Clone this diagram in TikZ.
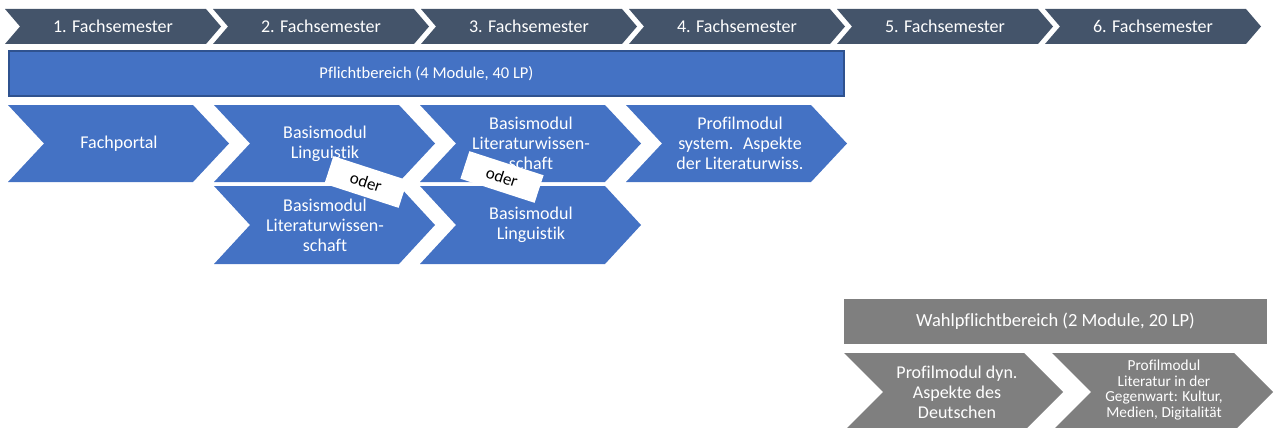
\documentclass[tikz,border=0pt]{standalone}
\usepackage{fontspec}
\setmainfont{Carlito}[Ligatures=NoCommon]
\definecolor{semgrau}{HTML}{44546A}
\definecolor{pflichtblau}{HTML}{4472C4}
\definecolor{pflichtrand}{HTML}{2F528F}
\definecolor{wahlgrau}{HTML}{7F7F7F}

\begin{document}
\begin{tikzpicture}[x=1pt,y=-1pt,
    semfeld/.style={fill=semgrau},
    semtext/.style={text=white,font=\fontsize{18}{20}\selectfont},
    modfeld/.style={fill=pflichtblau},
    modtext/.style={text=white,align=center,font=\fontsize{18}{20}\selectfont},
    wahlfeld/.style={fill=wahlgrau},
    oderbox/.style={fill=white,rotate=-18,minimum width=78pt,minimum height=29pt,inner sep=0pt,font=\fontsize{17}{20}\selectfont}]
        \useasboundingbox (0,0) rectangle (1275,428);
        % Draw semester bar
        \fill[semfeld] (5,9) -- ++(201,0) -- ++(15,17.5) -- ++(-15,17.5) -- ++(-201,0) -- ++(15,-17.5) -- cycle;
        \fill[semfeld] (213,9) -- ++(201,0) -- ++(15,17.5) -- ++(-15,17.5) -- ++(-201,0) -- ++(15,-17.5) -- cycle;
        \fill[semfeld] (421,9) -- ++(201,0) -- ++(15,17.5) -- ++(-15,17.5) -- ++(-201,0) -- ++(15,-17.5) -- cycle;
        \fill[semfeld] (629,9) -- ++(201,0) -- ++(15,17.5) -- ++(-15,17.5) -- ++(-201,0) -- ++(15,-17.5) -- cycle;
        \fill[semfeld] (837,9) -- ++(201,0) -- ++(15,17.5) -- ++(-15,17.5) -- ++(-201,0) -- ++(15,-17.5) -- cycle;
        \fill[semfeld] (1045,9) -- ++(201,0) -- ++(15,17.5) -- ++(-15,17.5) -- ++(-201,0) -- ++(15,-17.5) -- cycle;
        \node[semtext] (sem1) at (113,26.5) {1. Fachsemester};
        \node[semtext] (sem2) at (321,26.5) {2. Fachsemester};
        \node[semtext] (sem3) at (529,26.5) {3. Fachsemester};
        \node[semtext] (sem4) at (737,26.5) {4. Fachsemester};
        \node[semtext] (sem5) at (945,26.5) {5. Fachsemester};
        \node[semtext] (sem6) at (1153,26.5) {6. Fachsemester};
        % Pflichtbereich
        \draw[pflichtrand,line width=2pt,fill=pflichtblau] (9,51) rectangle (844,96);
        \node[text=white,font=\fontsize{16.5}{19}\selectfont] (pflicht) at (426.5,73.5) {Pflichtbereich (4 Module, 40 LP)};
        \fill[modfeld] (8,105) -- ++(185,0) -- ++(36,38.5) -- ++(-36,38.5) -- ++(-185,0) -- ++(36,-38.5) -- cycle;
        \fill[modfeld] (214,105) -- ++(185,0) -- ++(36,38.5) -- ++(-36,38.5) -- ++(-185,0) -- ++(36,-38.5) -- cycle;
        \fill[modfeld] (420,105) -- ++(185,0) -- ++(36,38.5) -- ++(-36,38.5) -- ++(-185,0) -- ++(36,-38.5) -- cycle;
        \fill[modfeld] (626,105) -- ++(185,0) -- ++(36,38.5) -- ++(-36,38.5) -- ++(-185,0) -- ++(36,-38.5) -- cycle;
        \fill[modfeld] (214,186) -- ++(185,0) -- ++(36,39) -- ++(-36,39) -- ++(-185,0) -- ++(36,-39) -- cycle;
        \fill[modfeld] (420,186) -- ++(185,0) -- ++(36,39) -- ++(-36,39) -- ++(-185,0) -- ++(36,-39) -- cycle;
        \node[modtext] (fachportal) at (119,143.5) {Fachportal};
        \node[modtext] (lingA) at (325,143.5) {Basismodul\\Linguistik};
        \node[modtext] (litA) at (531,143.5) {Basismodul\\Literaturwissen-\\schaft};
        \node[modtext] (profsys) at (740,143.5) {Profilmodul\\system.~ Aspekte\\der Literaturwiss.};
        \node[modtext] (litB) at (325,225) {Basismodul\\Literaturwissen-\\schaft};
        \node[modtext] (lingB) at (531,225) {Basismodul\\Linguistik};
        % oder
        \node[oderbox] (oder1) at (366,182) {oder};
        \node[oderbox] (oder2) at (502,177) {oder};
        % Wahlpflichtbereich
        \fill[wahlfeld] (844,299) rectangle (1267,344);
        \node[text=white,font=\fontsize{18.5}{21}\selectfont] (wahl) at (1055.5,321.5) {Wahlpflichtbereich (2 Module, 20 LP)};
        \fill[wahlfeld] (844,353) -- ++(180,0) -- ++(39,39) -- ++(-39,39) -- ++(-180,0) -- ++(39,-39) -- cycle;
        \fill[wahlfeld] (1052,353) -- ++(182,0) -- ++(39,39) -- ++(-39,39) -- ++(-182,0) -- ++(39,-39) -- cycle;
        \node[modtext] (profdyn) at (957,392) {Profilmodul dyn.\\Aspekte des\\Deutschen};
        \node[text=white,align=center,font=\fontsize{15.3}{15.7}\selectfont] (profgeg) at (1164,390) {Profilmodul\\Literatur in der\\Gegenwart: Kultur,\\Medien, Digitalität};
      \end{tikzpicture}
\end{document}
